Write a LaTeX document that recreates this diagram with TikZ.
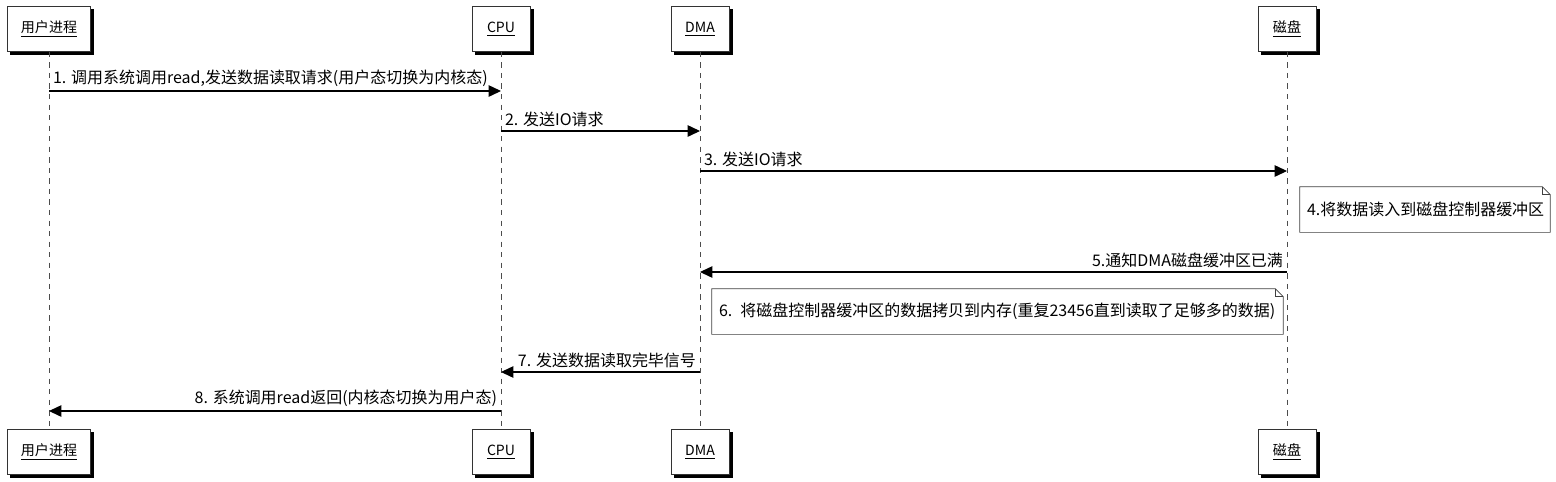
\documentclass[tikz,border=0pt]{standalone}
\usepackage{fontspec}
\setmainfont{Noto Sans CJK SC}
\usetikzlibrary{arrows.meta}
\usetikzlibrary{calc,shadows}

\tikzset{
  actor/.style={draw=black!80, fill=white, minimum height=0.9cm, minimum width=1.16cm, inner xsep=4pt,
    font=\fontsize{8}{10}\selectfont,
    copy shadow={shadow xshift=1.7pt, shadow yshift=-1.7pt, draw=black, fill=black}},
  life/.style={dashed, black!70, thin},
  msg/.style={-{Triangle[length=7pt,width=6.5pt]}, black, semithick},
  lab/.style={font=\fontsize{9.1}{11}\selectfont, inner sep=2pt},
  note/.style={minimum height=0.9cm, font=\fontsize{9.1}{11}\selectfont, inner xsep=4pt, inner ysep=0pt, align=left}
}

\begin{document}
\begin{tikzpicture}[x=0.02cm,y=-0.02cm]
    \useasboundingbox (0,0) rectangle (1556,481);

		% 参与者
		\node[actor, minimum width=1.66cm] (user) at (49,29) {\underline{用户进程}};
		\node[actor] (cpu)  at (501,29) {\underline{CPU}};
		\node[actor] (dma)  at (700,29) {\underline{DMA}};
		\node[actor] (disk) at (1287,29) {\underline{磁盘}};

		\node[actor, minimum width=1.66cm] (userB) at (49,452) {\underline{用户进程}};
		\node[actor] (cpuB)  at (501,452) {\underline{CPU}};
		\node[actor] (dmaB)  at (700,452) {\underline{DMA}};
		\node[actor] (diskB) at (1287,452) {\underline{磁盘}};

		\draw[life] (user) -- (userB);
		\draw[life] (cpu) -- (cpuB);
		\draw[life] (dma) -- (dmaB);
		\draw[life] (disk) -- (diskB);

		\coordinate (U1) at (49,91) ;
		\coordinate (C1) at (501,91) ;
		\coordinate (C2) at (501,131) ;
		\coordinate (D2) at (700,131) ;
		\coordinate (D3) at (700,171) ;
		\coordinate (K3) at (1287,171) ;
		\coordinate (K5) at (1287,272) ;
		\coordinate (D5) at (700,272) ;
		\coordinate (D7) at (700,372) ;
		\coordinate (C7) at (501,372) ;
		\coordinate (C8) at (501,411) ;
		\coordinate (U8) at (49,411) ;

		\draw[msg] (U1) -- (C1) node[lab, pos=0, above right] {1. 调用系统调用read,发送数据读取请求(用户态切换为内核态)};
		\draw[msg] (C2) -- (D2) node[lab, pos=0, above right] {2. 发送IO请求};
		\draw[msg] (D3) -- (K3) node[lab, pos=0, above right] {3. 发送IO请求};
		\draw[msg] (K5) -- (D5) node[lab, pos=0, above left] {5.通知DMA磁盘缓冲区已满};
		\draw[msg] (D7) -- (C7) node[lab, pos=0, above left] {7. 发送数据读取完毕信号};
		\draw[msg] (C8) -- (U8) node[lab, pos=0, above left] {8. 系统调用read返回(内核态切换为用户态)};

		% 注释
		\node[note, text width={5cm-8pt}] (n4) at (1425,209.5) {4.将数据读入到磁盘控制器缓冲区};
		\node[note, text width={11.42cm-8pt}] (n6) at (997.5,311.5) {6. 将磁盘控制器缓冲区的数据拷贝到内存(重复23456直到读取了足够多的数据)};

		\foreach \n in {n4,n6}{
		\draw[black!75] (\n.south west)--(\n.north west)--($(\n.north east)+(-8,0)$)--($(\n.north east)+(0,8)$)--(\n.south east)--cycle;
		\draw[black!75] ($(\n.north east)+(-8,0)$)--($(\n.north east)+(-8,8)$)--($(\n.north east)+(0,8)$);
		}
\end{tikzpicture}
\end{document}
